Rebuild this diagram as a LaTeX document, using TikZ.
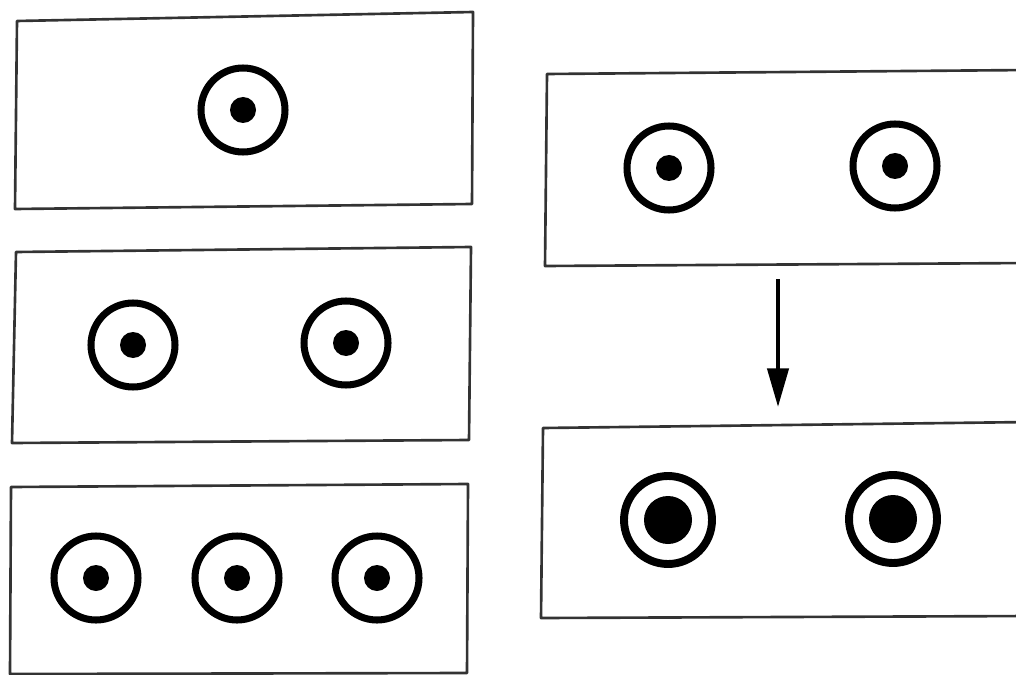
\documentclass[tikz,border=0pt]{standalone}
\usetikzlibrary{arrows.meta}
\begin{document}
\begin{tikzpicture}[x=0.02cm,y=-0.02cm,
    frame/.style={line width=1.5pt,line join=round,black!80},
    ring/.style={line width=4pt}]

        \useasboundingbox (0,0) rectangle (1016,675);
        \clip (0,0) rectangle (1016,675);

        % left column: one, two and three rings
        \draw[frame] (17,21) -- (473,12) -- (472,204) -- (15,209) -- cycle;
        \draw[frame] (16,252) -- (471,247) -- (469,440) -- (12,443) -- cycle;
        \draw[frame] (11,487) -- (468,484) -- (467,673) -- (10,674) -- cycle;

        % right column, cut at the page edge
        \draw[frame] (1030,70) -- (547,74) -- (545,266) -- (1030,263);
        \draw[frame] (1030,422) -- (543,428) -- (541,618) -- (1030,616);

        \foreach \cx/\cy in {243/110, 133/345, 346/343,
          96/578, 237/578, 377/578, 669/168, 895/166} {
          \draw[ring] (\cx,\cy) circle[radius=42];
          \fill (\cx,\cy) circle[radius=13];
        }

        \foreach \cx/\cy in {668/520, 893/519} {
          \draw[ring,line width=4.5pt] (\cx,\cy) circle[radius=44];
          \fill (\cx,\cy) circle[radius=24];
        }

        \coordinate (arrow top) at (778,279);
        \coordinate (arrow tip) at (778,407);
        \draw[line width=2.3pt,-{Triangle[width=12pt,length=22pt]}]
          (arrow top) -- (arrow tip);

      \end{tikzpicture}
\end{document}
